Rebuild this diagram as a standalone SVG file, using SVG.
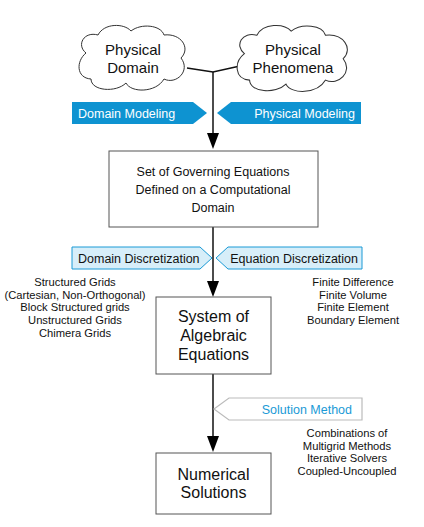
<svg xmlns="http://www.w3.org/2000/svg" width="424" height="527" viewBox="0 0 424 527">
<style>
text{font-family:"Liberation Sans",Arial,sans-serif;fill:#111}
.cloud{fill:#fff;stroke:#333;stroke-width:1}
.box{fill:#fff;stroke:#555;stroke-width:1}
.line{stroke:#111;stroke-width:1.5;fill:none}
.bb{fill:#0e93d1}
.lb{fill:#d7eef9;stroke:#1a9ad6;stroke-width:1}
.wb{fill:#fff;stroke:#bbb;stroke-width:1.2}
.t16{font-size:16px;text-anchor:middle}
.t13{font-size:12.5px;text-anchor:middle}
.t12w{font-size:12.5px;fill:#fff}
.t12{font-size:12.5px}
.t10{font-size:11.2px;text-anchor:middle}
</style>
<defs>
<path id="cloudShape" d="M10 30 C0 22 8 8 22 12 C28 0 48 0 55 8 C65 0 85 2 88 12 C105 10 115 25 105 35 C115 48 100 62 88 56 C80 70 55 70 50 60 C40 70 15 68 15 56 C0 55 0 38 10 30 Z"/>
</defs>
<g id="connectors">
<polyline class="line" points="187,68 213,72 240,66"/>
<line class="line" x1="213" y1="72" x2="213" y2="133"/>
<path d="M207 133 L219 133 L213 149 Z" fill="#000"/>
<line class="line" x1="213" y1="227" x2="213" y2="281"/>
<path d="M207 281 L219 281 L213 297 Z" fill="#000"/>
<line class="line" x1="213" y1="374" x2="213" y2="436"/>
<path d="M207 436 L219 436 L213 452 Z" fill="#000"/>
</g>
<g id="physical-domain">
<use href="#cloudShape" class="cloud" transform="translate(76,23)"/>
<text class="t16" x="133" y="55" style="font-size:15px">Physical</text>
<text class="t16" x="133" y="73" style="font-size:15px">Domain</text>
</g>
<g id="physical-phenomena">
<use href="#cloudShape" class="cloud" transform="translate(234,23) scale(1.04,1.02)"/>
<text class="t16" x="293" y="55" style="font-size:15px">Physical</text>
<text class="t16" x="293" y="73" style="font-size:15px">Phenomena</text>
</g>
<g id="domain-modeling">
<path class="bb" d="M72 102 L193 102 L207 113 L193 124 L72 124 Z"/>
<text class="t12w" x="78" y="117.5">Domain Modeling</text>
</g>
<g id="physical-modeling">
<path class="bb" d="M217 113 L231 102 L361 102 L361 124 L231 124 Z"/>
<text class="t12w" x="355" y="117.5" text-anchor="end">Physical Modeling</text>
</g>
<g id="governing-equations">
<rect class="box" x="109" y="151" width="209" height="76"/>
<text class="t13" x="213" y="176">Set of Governing Equations</text>
<text class="t13" x="213" y="194">Defined on a Computational</text>
<text class="t13" x="213" y="212">Domain</text>
</g>
<g id="domain-discretization">
<path class="lb" d="M72 247 L200 247 L212 258 L200 269 L72 269 Z"/>
<text class="t12" x="78" y="262.5">Domain Discretization</text>
<text class="t10" x="75" y="286">Structured Grids</text>
<text class="t10" x="75" y="298.5">(Cartesian, Non-Orthogonal)</text>
<text class="t10" x="75" y="311">Block Structured grids</text>
<text class="t10" x="75" y="324">Unstructured Grids</text>
<text class="t10" x="75" y="336.5">Chimera Grids</text>
</g>
<g id="equation-discretization">
<path class="lb" d="M216 258 L228 247 L362 247 L362 269 L228 269 Z"/>
<text class="t12" x="358" y="262.5" text-anchor="end">Equation Discretization</text>
<text class="t10" x="353" y="286">Finite Difference</text>
<text class="t10" x="353" y="298.5">Finite Volume</text>
<text class="t10" x="353" y="311">Finite Element</text>
<text class="t10" x="353" y="324">Boundary Element</text>
</g>
<g id="algebraic-equations">
<rect class="box" x="156" y="297" width="115" height="77"/>
<text class="t16" x="213.5" y="322">System of</text>
<text class="t16" x="213.5" y="341">Algebraic</text>
<text class="t16" x="213.5" y="360">Equations</text>
</g>
<g id="solution-method">
<path class="wb" d="M214 409 L229 398 L362 398 L362 420 L229 420 Z"/>
<text class="t12" x="352" y="413.5" text-anchor="end" style="fill:#1a9ad6">Solution Method</text>
<text class="t10" x="347" y="437">Combinations of</text>
<text class="t10" x="347" y="449.5">Multigrid Methods</text>
<text class="t10" x="347" y="462">Iterative Solvers</text>
<text class="t10" x="347" y="474.5">Coupled-Uncoupled</text>
</g>
<g id="numerical-solutions">
<rect class="box" x="156" y="453" width="115" height="61"/>
<text class="t16" x="213.5" y="480">Numerical</text>
<text class="t16" x="213.5" y="498">Solutions</text>
</g>
</svg>
